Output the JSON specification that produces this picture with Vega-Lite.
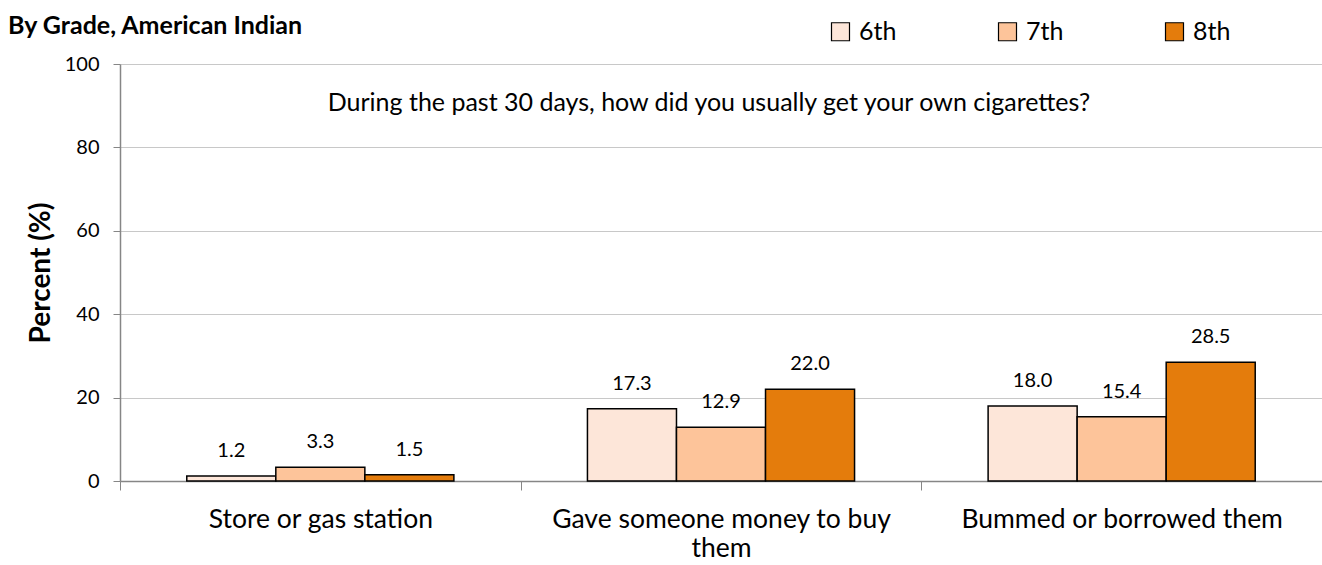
{
  "$schema": "https://vega.github.io/schema/vega-lite/v6.json",
  "width": 1202,
  "height": 417,
  "autosize": {"type": "none"},
  "padding": {"left": 120, "top": 64, "right": 0, "bottom": 84},
  "background": "white",
  "config": {
    "font": "Lato",
    "view": {"stroke": null}
  },
  "title": {
    "text": "By Grade, American Indian",
    "anchor": "start",
    "frame": "group",
    "dx": -112,
    "offset": -20,
    "fontSize": 25,
    "font": "Lato",
    "fontWeight": "bold",
    "color": "#000000"
  },
  "datasets": {
    "bars": [
      {"cat": "Store or gas station", "grade": "6th", "pct": 1.2},
      {"cat": "Store or gas station", "grade": "7th", "pct": 3.3},
      {"cat": "Store or gas station", "grade": "8th", "pct": 1.5},
      {"cat": "Gave someone money to buy them", "grade": "6th", "pct": 17.3},
      {"cat": "Gave someone money to buy them", "grade": "7th", "pct": 12.9},
      {"cat": "Gave someone money to buy them", "grade": "8th", "pct": 22.0},
      {"cat": "Bummed or borrowed them", "grade": "6th", "pct": 18.0},
      {"cat": "Bummed or borrowed them", "grade": "7th", "pct": 15.4},
      {"cat": "Bummed or borrowed them", "grade": "8th", "pct": 28.5}
    ],
    "notes": [
      {"note": "During the past 30 days, how did you usually get your own cigarettes?", "pos": 90.6}
    ]
  },
  "layer": [
    {
      "data": {"name": "bars"},
      "encoding": {
        "x": {
          "field": "cat",
          "type": "nominal",
          "sort": null,
          "scale": {"paddingInner": 0, "paddingOuter": 0},
          "axis": {
            "title": null,
            "labelAngle": 0,
            "labelFontSize": 26.5,
            "labelColor": "#000000",
            "labelPadding": 16,
            "labelLineHeight": 29,
            "labelLimit": 400,
            "labelExpr": "datum.label == 'Gave someone money to buy them' ? ['Gave someone money to buy', 'them'] : datum.label",
            "tickBand": "extent",
            "tickSize": 9,
            "tickColor": "#868686",
            "domainColor": "#868686",
            "domainWidth": 1.5,
            "grid": false
          }
        },
        "xOffset": {
          "field": "grade",
          "type": "nominal",
          "scale": {"paddingOuter": 0.75, "paddingInner": 0}
        },
        "y": {
          "field": "pct",
          "type": "quantitative",
          "scale": {"domain": [0, 100]},
          "axis": {
            "title": "Percent (%)",
            "titleFontSize": 28,
            "titleFontWeight": "bold",
            "titleColor": "#000000",
            "titlePadding": 9,
            "values": [0, 20, 40, 60, 80, 100],
            "labelFontSize": 20,
            "labelColor": "#000000",
            "labelPadding": 14,
            "tickSize": 7,
            "tickColor": "#868686",
            "domainColor": "#868686",
            "domainWidth": 1.5,
            "gridColor": "#C8C8C8",
            "gridWidth": 1.2
          }
        }
      },
      "layer": [
        {
          "mark": {"type": "bar", "stroke": "#000000", "strokeWidth": 1.5},
          "encoding": {
            "color": {
              "field": "grade",
              "type": "nominal",
              "scale": {"domain": ["6th", "7th", "8th"], "range": ["#FDE6D9", "#FDC49A", "#E47C0C"]},
              "legend": {
                "title": null,
                "orient": "none",
                "direction": "horizontal",
                "legendX": 708,
                "legendY": -45,
                "symbolType": "square",
                "symbolSize": 324,
                "symbolStrokeColor": "#000000",
                "symbolStrokeWidth": 1.2,
                "symbolOpacity": 1,
                "labelFontSize": 25,
                "labelColor": "#000000",
                "labelOffset": 6,
                "columnPadding": 98
              }
            }
          }
        },
        {
          "mark": {"type": "text", "baseline": "middle", "dy": -25, "fontSize": 20, "color": "#000000"},
          "encoding": {
            "text": {"field": "pct", "type": "quantitative", "format": ".1f"}
          }
        }
      ]
    },
    {
      "data": {"name": "notes"},
      "mark": {"type": "text", "baseline": "middle", "fontSize": 25, "color": "#000000", "dx": -12},
      "encoding": {
        "text": {"field": "note", "type": "nominal"},
        "y": {"field": "pos", "type": "quantitative"}
      }
    }
  ]
}
